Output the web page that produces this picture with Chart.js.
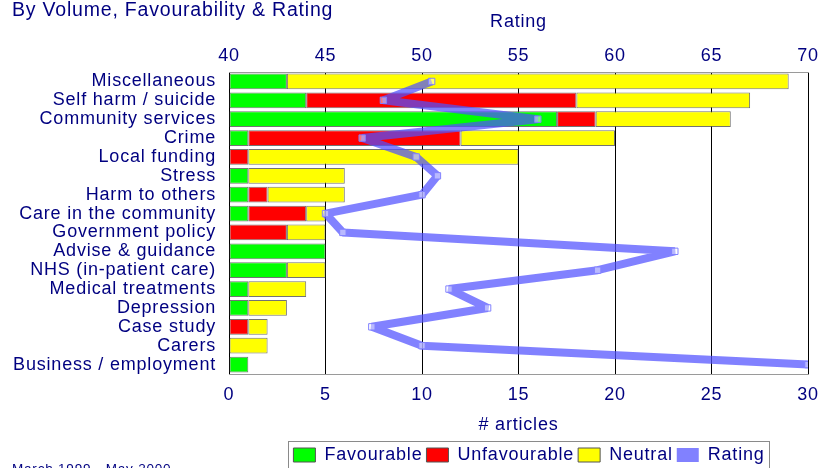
<!DOCTYPE html>
<html><head><meta charset="utf-8">
<script src="https://cdn.jsdelivr.net/npm/chart.js@4/dist/chart.umd.min.js"></script>
<style>html,body{margin:0;padding:0;background:#fff;overflow:hidden}canvas{display:block}</style>
</head><body>
<canvas id="c" width="821" height="468"></canvas>
<script>
const categories = ['Miscellaneous','Self harm / suicide','Community services','Crime','Local funding','Stress','Harm to others','Care in the community','Government policy','Advise & guidance','NHS (in-patient care)','Medical treatments','Depression','Case study','Carers','Business / employment'];
const favourable   = [3, 4, 17, 1, 0, 1, 1, 1, 0, 5, 3, 1, 1, 0, 0, 1];
const unfavourable = [0, 14, 2, 11, 1, 0, 1, 3, 3, 0, 0, 0, 0, 1, 0, 0];
const neutral      = [26, 9, 7, 8, 14, 5, 4, 1, 2, 0, 2, 3, 2, 1, 2, 0];
const rating       = [50.5, 48.0, 56.0, 46.9, 49.7, 50.8, 50.0, 45.0, 45.9, 63.1, 59.1, 51.4, 53.4, 47.4, 50.0, 70.0];
const articleTicks = [0, 5, 10, 15, 20, 25, 30];
const ratingTicks  = [40, 45, 50, 55, 60, 65, 70];

const NAVY = '#000080';
const FONT = '"Liberation Sans", Arial, Helvetica, sans-serif';
const nz = a => a.map(v => v === 0 ? null : v);

const extras = {
  id: 'extras',
  beforeLayout(chart) { chart.ctx.letterSpacing = '0.8px'; },
  beforeDraw(chart) { chart.ctx.letterSpacing = '0.8px'; },
  afterLayout(chart) {
    const tb = chart.titleBlock; if (tb) { tb.left = 12; tb.top = 1; }
    const lg = chart.legend;
    const dx = 529 - (lg.left + lg.right) / 2; lg.left += dx; lg.right += dx;
    const P = lg.options.labels.padding;
    const ih = (lg.legendHitBoxes && lg.legendHitBoxes.length) ? lg.legendHitBoxes[0].height : 18;
    const dy = 455 - (lg.top + P + ih / 2); lg.top += dy; lg.bottom += dy;
    const xs = chart.scales.x; xs.bottom = 425 + 10.8;
  },
  afterDraw(chart) {
    const ctx = chart.ctx; const lg = chart.legend;
    const P = lg.options.labels.padding;
    const w = lg.lineWidths[0] - P;
    const cx = (lg.left + lg.right) / 2;
    ctx.save();
    ctx.strokeStyle = '#8a8a8a'; ctx.lineWidth = 1;
    ctx.strokeRect(Math.round(cx - w / 2 - 5) + 0.5, 441.5, Math.round(w + 10), 40);
    ctx.fillStyle = NAVY; ctx.font = '13.5px ' + FONT; ctx.textBaseline = 'alphabetic'; ctx.textAlign = 'left';
    ctx.fillText('March 1999 - May 2000', 12, 473);
    ctx.restore();
  }
};

function noPad(s) { s.paddingLeft = 0; s.paddingRight = 0; }

new Chart(document.getElementById('c'), {
  type: 'bar',
  data: {
    labels: categories,
    datasets: [
      { label: 'Favourable', data: nz(favourable), backgroundColor: '#00ff00', borderColor: 'rgba(80,80,80,0.8)', borderWidth: 1, borderSkipped: false, xAxisID: 'x', yAxisID: 'y', order: 1, stack: 's' },
      { label: 'Unfavourable', data: nz(unfavourable), backgroundColor: '#ff0000', borderColor: 'rgba(80,80,80,0.8)', borderWidth: 1, borderSkipped: false, xAxisID: 'x', yAxisID: 'y', order: 1, stack: 's' },
      { label: 'Neutral', data: nz(neutral), backgroundColor: '#ffff00', borderColor: 'rgba(80,80,80,0.8)', borderWidth: 1, borderSkipped: false, xAxisID: 'x', yAxisID: 'y', order: 1, stack: 's' },
      { type: 'line', label: 'Rating', data: rating, xAxisID: 'x2', yAxisID: 'y', order: 0,
        borderColor: 'rgba(80,80,255,0.72)', backgroundColor: 'rgba(80,80,255,0.72)', borderWidth: 8, borderJoinStyle: 'bevel', tension: 0, fill: false,
        pointStyle: 'rect', pointRadius: 4.5, pointBorderColor: 'rgba(130,130,255,1)', pointBackgroundColor: 'rgba(255,255,255,0.45)', pointBorderWidth: 1 }
    ]
  },
  options: {
    indexAxis: 'y',
    responsive: false,
    animation: false,
    layout: { padding: { left: 0, right: 13, top: 0, bottom: 0 } },
    datasets: { bar: { barPercentage: 0.84, categoryPercentage: 1 } },
    scales: {
      y: {
        type: 'category', position: 'left', stacked: true,
        ticks: { color: NAVY, font: { size: 18, family: FONT }, padding: 13, autoSkip: false },
        grid: { display: false, drawTicks: false },
        border: { display: true, color: '#000', width: 1 },
        afterFit(s) { s.width = 229; s.paddingTop = 0; s.paddingBottom = 0; }
      },
      x: {
        type: 'linear', position: 'bottom', stacked: true,
        min: articleTicks[0], max: articleTicks[articleTicks.length - 1],
        afterBuildTicks(s) { s.ticks = articleTicks.map(v => ({ value: v })); },
        ticks: { color: NAVY, font: { size: 18, family: FONT }, padding: 10 },
        grid: { color: '#000', lineWidth: 1, drawTicks: false },
        border: { display: true, color: '#9a9a9a', width: 1 },
        title: { display: true, text: '# articles', color: NAVY, font: { size: 18, family: FONT }, padding: 0 },
        afterFit(s) { s.height = 468 - 374 - s.chart.legend.height; noPad(s); }
      },
      x2: {
        type: 'linear', position: 'top',
        min: ratingTicks[0], max: ratingTicks[ratingTicks.length - 1],
        afterBuildTicks(s) { s.ticks = ratingTicks.map(v => ({ value: v })); },
        ticks: { color: NAVY, font: { size: 18, family: FONT }, padding: 5 },
        grid: { display: false, drawTicks: false },
        border: { display: true, color: '#9a9a9a', width: 1 },
        title: { display: true, text: 'Rating', color: NAVY, font: { size: 18, family: FONT, lineHeight: 1 }, padding: { top: -6, bottom: 0 } },
        afterFit(s) { s.height = 72 - s.chart.titleBlock.height; noPad(s); }
      }
    },
    plugins: {
      title: { display: true, text: 'By Volume, Favourability & Rating', align: 'start', color: NAVY, font: { size: 19.5, family: FONT, weight: 'normal', lineHeight: 1 }, padding: 0 },
      tooltip: { enabled: false },
      legend: {
        position: 'bottom',
        labels: {
          color: NAVY, font: { size: 18, family: FONT }, boxWidth: 22, boxHeight: 14, padding: 4,
          sort: (a, b) => a.datasetIndex - b.datasetIndex,
          generateLabels(chart) {
            const items = Chart.defaults.plugins.legend.labels.generateLabels(chart);
            items.forEach(it => {
              if (it.datasetIndex === 3) { it.fillStyle = 'rgba(80,80,255,0.72)'; it.strokeStyle = 'rgba(80,80,255,0.72)'; it.lineWidth = 0; }
              else { it.strokeStyle = '#555'; it.lineWidth = 1; }
            });
            return items;
          }
        }
      }
    }
  },
  plugins: [extras]
});
</script>
</body></html>
